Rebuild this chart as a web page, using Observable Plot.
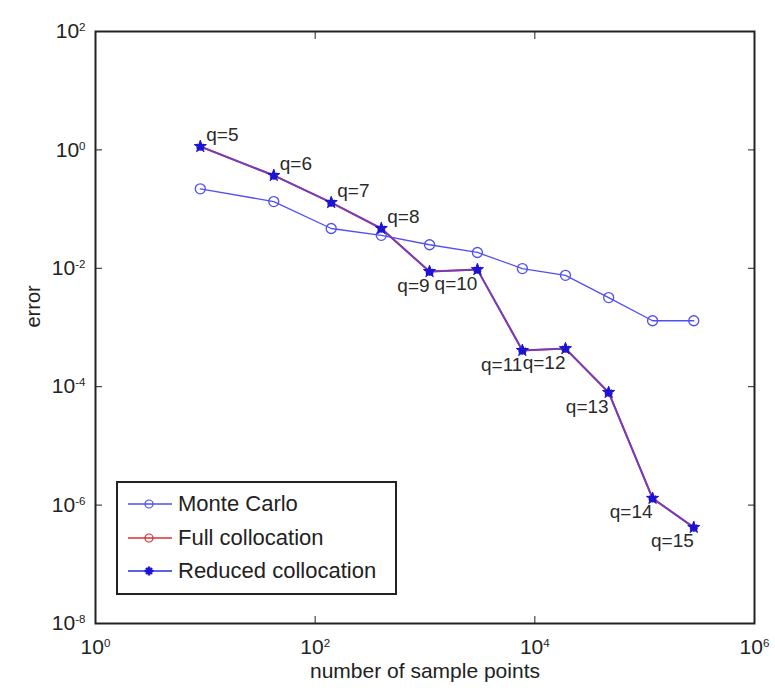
<!DOCTYPE html>
<html><head><meta charset="utf-8">
<script src="https://cdn.jsdelivr.net/npm/d3@7"></script>
<script src="https://cdn.jsdelivr.net/npm/@observablehq/plot@0.6"></script>
<style>
body{margin:0;background:#fff;}
#wrap{position:relative;width:775px;height:691px;font-family:"Liberation Sans",Arial,sans-serif;}
#legend{position:absolute;left:116px;top:481px;width:281px;height:114px;border:2px solid #222;background:#fff;box-sizing:border-box;}
.row{position:absolute;left:8px;height:30px;display:flex;align-items:center;font-size:22px;color:#222;white-space:nowrap;}
.row svg{margin-right:4px;}
</style></head><body><div id="wrap"></div>
<script>
// ---- data ----
const qLevels = [5, 6, 7, 8, 9, 10, 11, 12, 13, 14, 15];
const samplePoints = [9, 42, 140, 400, 1100, 3000, 7700, 19000, 47000, 118000, 280000];
const monteCarloError = [0.22, 0.134, 0.047, 0.036, 0.025, 0.0185, 0.0099, 0.0076, 0.0032, 0.0013, 0.0013];
const fullCollocationError = [1.14, 0.37, 0.129, 0.047, 0.0088, 0.0095, 4.1e-4, 4.4e-4, 8.0e-5, 1.3e-6, 4.2e-7];
const reducedCollocationError = [1.14, 0.37, 0.129, 0.047, 0.0088, 0.0095, 4.1e-4, 4.4e-4, 8.0e-5, 1.3e-6, 4.2e-7];
const seriesNames = ["Monte Carlo", "Full collocation", "Reduced collocation"];
const xTicks = [1, 1e2, 1e4, 1e6];
const yTicks = [1e2, 1, 1e-2, 1e-4, 1e-6, 1e-8];
const xLabel = "number of sample points";
const yLabel = "error";

const mcColor = "#5050f2", fullColor = "#d83030", redLine = "#6040d8", redMarker = "#1c14d0";

const mc = samplePoints.map((x, i) => ({x, y: monteCarloError[i]}));
const full = samplePoints.map((x, i) => ({x, y: fullCollocationError[i], q: qLevels[i]}));
const red = samplePoints.map((x, i) => ({x, y: reducedCollocationError[i], q: qLevels[i]}));

const expFormat = d => "10^" + Math.round(Math.log10(d));
const blank = () => "";

const chart = Plot.plot({
  width: 775, height: 691,
  marginLeft: 95, marginRight: 21, marginTop: 31, marginBottom: 68,
  style: {fontFamily: "'Liberation Sans', Arial, sans-serif", color: "#222", background: "white", overflow: "visible"},
  x: {type: "log", domain: [1, 1e6]},
  y: {type: "log", domain: [1e-8, 1e2]},
  marks: [
    Plot.line(mc, {x: "x", y: "y", stroke: mcColor, strokeWidth: 1.3}),
    Plot.dot(mc, {x: "x", y: "y", r: 5, stroke: mcColor, strokeWidth: 1.3, fill: "none"}),
    Plot.line(full, {x: "x", y: "y", stroke: fullColor, strokeWidth: 2}),
    Plot.dot(full, {x: "x", y: "y", r: 2.5, stroke: fullColor, strokeWidth: 1, fill: "none"}),
    Plot.line(red, {x: "x", y: "y", stroke: redLine, strokeWidth: 1.8, strokeOpacity: 0.9}),
    Plot.dot(red, {x: "x", y: "y", symbol: "star", r: 3.8, fill: redMarker, stroke: redMarker, strokeWidth: 1}),
    Plot.dot(red, {x: "x", y: "y", symbol: "asterisk", r: 4, stroke: redMarker, strokeWidth: 2.2}),
    Plot.text(red.filter(d => d.q <= 8), {x: "x", y: "y", text: d => "q=" + d.q, dx: 6, dy: -12, textAnchor: "start", fontSize: 19, fill: "#2a2a2a"}),
    Plot.text(red.filter(d => d.q > 8), {x: "x", y: "y", text: d => "q=" + d.q, dx: 0, dy: 14, textAnchor: "end", fontSize: 19, fill: "#2a2a2a"}),
    Plot.frame({stroke: "#222", strokeWidth: 2}),
    // inward tick marks on all four sides
    Plot.axisX(xTicks, {anchor: "bottom", tickSize: 7, dy: -7, tickFormat: blank, label: null, stroke: "#222"}),
    Plot.axisX(xTicks, {anchor: "top", tickSize: 7, dy: 7, tickFormat: blank, label: null, stroke: "#222"}),
    Plot.axisY(yTicks, {anchor: "left", tickSize: 7, dx: 7, tickFormat: blank, label: null, stroke: "#222"}),
    Plot.axisY(yTicks, {anchor: "right", tickSize: 7, dx: -7, tickFormat: blank, label: null, stroke: "#222"}),
    // tick labels
    Plot.axisX(xTicks, {anchor: "bottom", tickSize: 0, tickPadding: 16, tickFormat: expFormat, fontSize: 21, label: null, fill: "#222"}),
    Plot.axisY(yTicks, {anchor: "left", tickSize: 0, tickPadding: 10, tickFormat: expFormat, fontSize: 21, label: null, fill: "#222"}),
    // axis titles
    Plot.text([xLabel], {frameAnchor: "bottom", dy: 54, text: d => d, fontSize: 21, fill: "#222"}),
    Plot.text([yLabel], {frameAnchor: "left", dx: -62, rotate: -90, text: d => d, fontSize: 20, fill: "#222"})
  ]
});

// superscript exponents in tick labels
chart.querySelectorAll("text").forEach(t => {
  const m = /^10\^(-?\d+)$/.exec(t.textContent);
  if (!m) return;
  t.textContent = "10";
  const ts = document.createElementNS("http://www.w3.org/2000/svg", "tspan");
  ts.setAttribute("dy", "-0.6em");
  ts.setAttribute("font-size", "0.55em");
  ts.textContent = m[1];
  t.appendChild(ts);
});

const wrap = document.getElementById("wrap");
wrap.appendChild(chart);

// legend inside the axes
const legend = document.createElement("div");
legend.id = "legend";
const rowTops = [6, 40, 73];
const legendStyles = [
  {line: mcColor, marker: "circle", mcolor: mcColor},
  {line: fullColor, marker: "circle", mcolor: fullColor},
  {line: "#2a2ae0", marker: "star", mcolor: redMarker}
];
seriesNames.forEach((name, i) => {
  const row = document.createElement("div");
  row.className = "row";
  row.style.top = rowTops[i] + "px";
  const st = legendStyles[i];
  let m;
  if (st.marker === "circle") m = `<circle cx="23" cy="10" r="4" fill="none" stroke="${st.mcolor}" stroke-width="1.2"/>`;
  else m = `<g stroke="${st.mcolor}" stroke-width="2.4"><line x1="23" y1="5.5" x2="23" y2="14.5"/><line x1="18.5" y1="10" x2="27.5" y2="10"/><line x1="20" y1="7" x2="26" y2="13"/><line x1="26" y1="7" x2="20" y2="13"/></g>`;
  row.innerHTML = `<svg width="48" height="20"><line x1="2" y1="10" x2="46" y2="10" stroke="${st.line}" stroke-width="1.6"/>${m}</svg><span>${name}</span>`;
  legend.appendChild(row);
});
wrap.appendChild(legend);
</script>
</body></html>
